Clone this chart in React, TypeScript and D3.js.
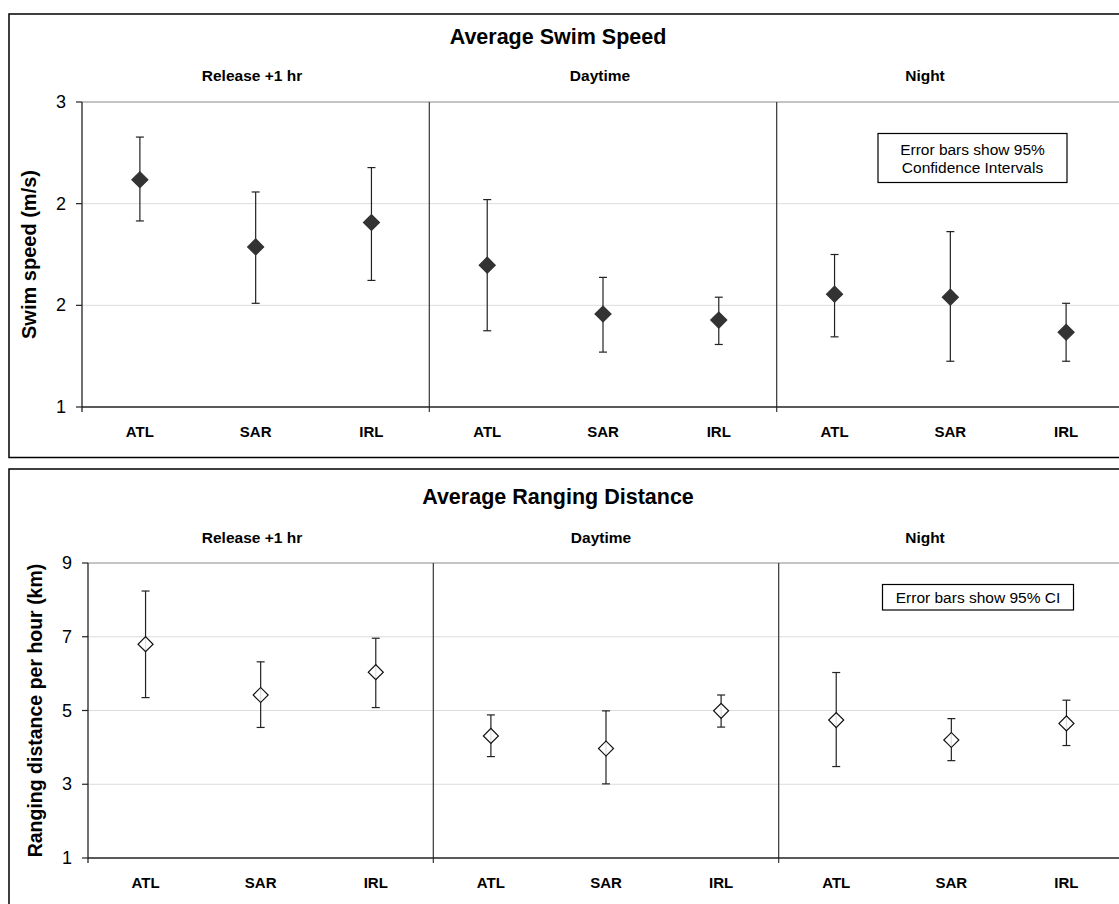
import React from "react";
import * as d3 from "d3";

// ---------- Data ----------
const groups = ["Release +1 hr", "Daytime", "Night"];
const sites = ["ATL", "SAR", "IRL"];

// Average swim speed (m/s): one value per group x site (Release, Daytime, Night)
const swimMean = [2.49, 2.05, 2.21, 1.93, 1.61, 1.57, 1.74, 1.72, 1.49];
const swimLow = [2.22, 1.68, 1.83, 1.5, 1.36, 1.41, 1.46, 1.3, 1.3];
const swimHigh = [2.77, 2.41, 2.57, 2.36, 1.85, 1.72, 2.0, 2.15, 1.68];
const swimTicks = [1, 5 / 3, 7 / 3, 3];
const swimTickLabels = ["1", "2", "2", "3"];

// Average ranging distance per hour (km)
const rangeMean = [6.8, 5.42, 6.04, 4.31, 3.97, 4.99, 4.74, 4.2, 4.65];
const rangeLow = [5.35, 4.54, 5.08, 3.75, 3.01, 4.55, 3.48, 3.64, 4.05];
const rangeHigh = [8.24, 6.32, 6.96, 4.88, 4.99, 5.42, 6.03, 4.78, 5.28];
const rangeTicks = [1, 3, 5, 7, 9];
const rangeTickLabels = ["1", "3", "5", "7", "9"];

const FONT = "'Liberation Sans', Arial, Helvetica, sans-serif";

type PanelProps = {
  top: number;
  bottom: number;
  title: string;
  titleY: number;
  subY: number;
  subX: number[];
  plotLeft: number;
  plotTop: number;
  plotBottom: number;
  domain: [number, number];
  ticks: number[];
  tickLabels: string[];
  yLabel: string;
  yLabelX: number;
  yLabelSize: number;
  mean: number[];
  low: number[];
  high: number[];
  filled: boolean;
  note: string[];
  noteBox: { x: number; y: number; w: number; h: number };
  catY: number;
};

function Panel(p: PanelProps) {
  const plotRight = 1124;
  const idx = d3.range(groups.length * sites.length);
  const x = d3.scaleBand<number>().domain(idx).range([p.plotLeft, plotRight]).padding(0);
  const cx = (i: number) => (x(i) as number) + x.bandwidth() / 2;
  const y = d3.scaleLinear().domain(p.domain).range([p.plotBottom, p.plotTop]);
  const boundaries = d3.range(groups.length + 1).map((g) =>
    g < groups.length ? (x(g * sites.length) as number) : plotRight
  );
  const r = p.filled ? 8 : 7.5;
  const side = r * Math.SQRT2;
  const diamond = d3.symbol(d3.symbolSquare, side * side)();
  const yMid = (p.plotTop + p.plotBottom) / 2;

  return (
    <g>
      <rect x={9} y={p.top} width={1130} height={p.bottom - p.top} fill="#fff" stroke="#000" strokeWidth={1.5} />
      <text x={558} y={p.titleY} textAnchor="middle" dominantBaseline="central" fontFamily={FONT} fontWeight="bold" fontSize={21.5}>
        {p.title}
      </text>
      {groups.map((g, i) => (
        <text key={g} x={p.subX[i]} y={p.subY} textAnchor="middle" dominantBaseline="central" fontFamily={FONT} fontWeight="bold" fontSize={15.5}>
          {g}
        </text>
      ))}
      {p.ticks.slice(1, -1).map((t) => (
        <line key={t} x1={p.plotLeft} x2={plotRight} y1={y(t)} y2={y(t)} stroke="#dcdcdc" strokeWidth={1} />
      ))}
      <line x1={p.plotLeft} x2={plotRight} y1={y(p.domain[1])} y2={y(p.domain[1])} stroke="#8a8a8a" strokeWidth={1.2} />
      {boundaries.slice(1, -1).map((b) => (
        <line key={b} x1={b} x2={b} y1={p.plotTop} y2={p.plotBottom + 5} stroke="#444" strokeWidth={1.3} />
      ))}
      <line x1={p.plotLeft} x2={p.plotLeft} y1={p.plotTop} y2={p.plotBottom + 5} stroke="#222" strokeWidth={1.3} />
      {p.ticks.map((t, i) => (
        <g key={"t" + i}>
          <line x1={p.plotLeft - 6} x2={p.plotLeft} y1={y(t)} y2={y(t)} stroke="#222" strokeWidth={1.2} />
          <text x={p.plotLeft - 16} y={y(t)} textAnchor="end" dominantBaseline="central" fontFamily={FONT} fontSize={18}>
            {p.tickLabels[i]}
          </text>
        </g>
      ))}
      <line x1={p.plotLeft} x2={plotRight} y1={p.plotBottom} y2={p.plotBottom} stroke="#222" strokeWidth={1.3} />
      {idx.map((i) => (
        <text key={"c" + i} x={cx(i)} y={p.catY} textAnchor="middle" dominantBaseline="central" fontFamily={FONT} fontWeight="bold" fontSize={15}>
          {sites[i % sites.length]}
        </text>
      ))}
      <text
        transform={`translate(${p.yLabelX},${yMid}) rotate(-90)`}
        textAnchor="middle"
        dominantBaseline="central"
        fontFamily={FONT}
        fontWeight="bold"
        fontSize={p.yLabelSize}
      >
        {p.yLabel}
      </text>
      {idx.map((i) => (
        <g key={"e" + i} stroke="#222" strokeWidth={1.2}>
          <line x1={cx(i)} x2={cx(i)} y1={y(p.low[i])} y2={y(p.high[i])} />
          <line x1={cx(i) - 4} x2={cx(i) + 4} y1={y(p.low[i])} y2={y(p.low[i])} />
          <line x1={cx(i) - 4} x2={cx(i) + 4} y1={y(p.high[i])} y2={y(p.high[i])} />
        </g>
      ))}
      {idx.map((i) => (
        <path
          key={"m" + i}
          d={diamond as string}
          transform={`translate(${cx(i)},${y(p.mean[i])}) rotate(45)`}
          fill={p.filled ? "#333" : "#fff"}
          fillOpacity={p.filled ? 1 : 0.85}
          stroke={p.filled ? "#333" : "#111"}
          strokeWidth={1.2}
        />
      ))}
      <rect x={p.noteBox.x} y={p.noteBox.y} width={p.noteBox.w} height={p.noteBox.h} fill="#fff" stroke="#000" strokeWidth={1.2} />
      {p.note.map((line, i) => (
        <text
          key={"n" + i}
          x={p.noteBox.x + p.noteBox.w / 2}
          y={p.noteBox.y + p.noteBox.h / 2 + (i - (p.note.length - 1) / 2) * 18}
          textAnchor="middle"
          dominantBaseline="central"
          fontFamily={FONT}
          fontSize={15.5}
        >
          {line}
        </text>
      ))}
    </g>
  );
}

export default function App() {
  return (
    <svg width={1119} height={904} style={{ position: "absolute", left: 0, top: 0, display: "block", background: "#fff" }}>
      <rect x={0} y={0} width={1119} height={904} fill="#fff" />
      <Panel
        top={14}
        bottom={457.5}
        title="Average Swim Speed"
        titleY={37}
        subY={75}
        subX={[252, 600, 925]}
        plotLeft={82}
        plotTop={102}
        plotBottom={407}
        domain={[1, 3]}
        ticks={swimTicks}
        tickLabels={swimTickLabels}
        yLabel="Swim speed (m/s)"
        yLabelX={29}
        yLabelSize={20}
        mean={swimMean}
        low={swimLow}
        high={swimHigh}
        filled={true}
        note={["Error bars show 95%", "Confidence Intervals"]}
        noteBox={{ x: 878, y: 133.5, w: 189, h: 49 }}
        catY={431}
      />
      <Panel
        top={469}
        bottom={940}
        title="Average Ranging Distance"
        titleY={497}
        subY={537}
        subX={[252, 601, 925]}
        plotLeft={88}
        plotTop={563}
        plotBottom={858}
        domain={[1, 9]}
        ticks={rangeTicks}
        tickLabels={rangeTickLabels}
        yLabel="Ranging distance per hour (km)"
        yLabelX={35}
        yLabelSize={19.5}
        mean={rangeMean}
        low={rangeLow}
        high={rangeHigh}
        filled={false}
        note={["Error bars show 95% CI"]}
        noteBox={{ x: 882.5, y: 584.5, w: 191, h: 25.5 }}
        catY={882}
      />
    </svg>
  );
}
